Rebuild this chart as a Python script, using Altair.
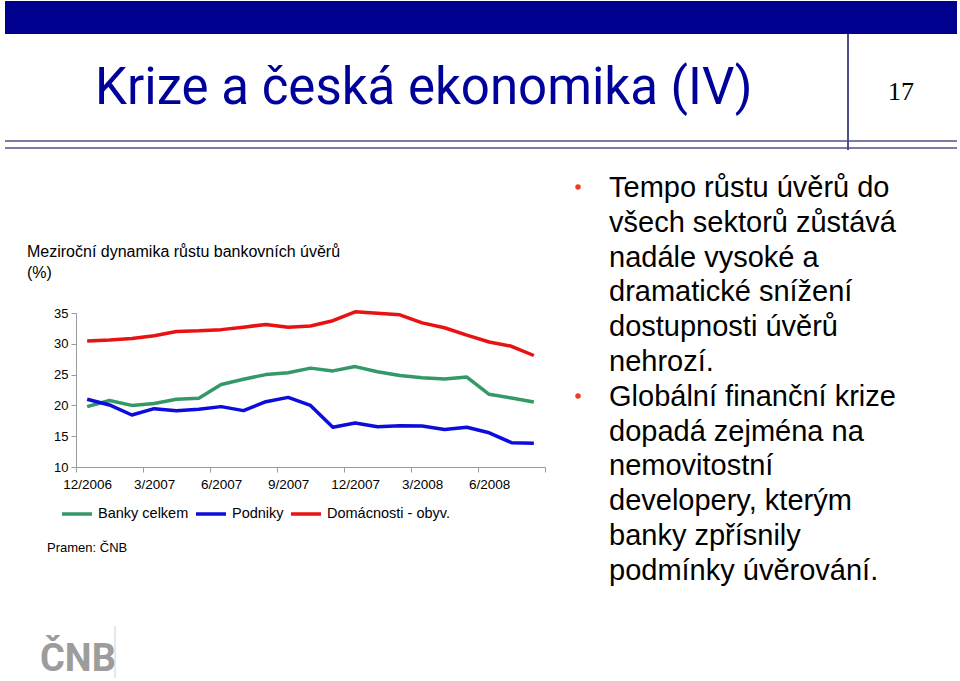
import altair as alt
import pandas as pd

# ---------------- data ----------------
months = ["12/2006", "1/2007", "2/2007", "3/2007", "4/2007", "5/2007", "6/2007",
          "7/2007", "8/2007", "9/2007", "10/2007", "11/2007", "12/2007",
          "1/2008", "2/2008", "3/2008", "4/2008", "5/2008", "6/2008", "7/2008", "8/2008"]
banky_celkem = [19.8, 20.8, 20.0, 20.3, 21.0, 21.15, 23.4, 24.25, 25.0, 25.3, 26.05,
                25.6, 26.3, 25.45, 24.85, 24.5, 24.3, 24.6, 21.8, 21.2, 20.55]
podniky = [21.0, 20.07, 18.44, 19.47, 19.15, 19.37, 19.8, 19.15, 20.6, 21.3, 20.0,
           16.45, 17.15, 16.55, 16.7, 16.65, 16.1, 16.45, 15.55, 13.95, 13.85]
domacnosti = [30.44, 30.6, 30.87, 31.3, 32.0, 32.1, 32.3, 32.7, 33.15, 32.7, 32.9,
              33.75, 35.2, 34.95, 34.7, 33.4, 32.6, 31.4, 30.3, 29.6, 28.1]
series_names = ["Banky celkem", "Podniky", "Domácnosti - obyv."]
series_colors = ["#339966", "#0c0cdc", "#e81212"]
tick_labels = ["12/2006", "3/2007", "6/2007", "9/2007", "12/2007", "3/2008", "6/2008"]
y_ticks = [10, 15, 20, 25, 30, 35]

slide_title = "Krize a česká ekonomika (IV)"
slide_number = "17"
chart_title = ["Meziroční dynamika růstu bankovních úvěrů", "(%)"]
source_note = "Pramen: ČNB"
bullet1 = ["Tempo růstu úvěrů do", "všech sektorů zůstává", "nadále vysoké a",
           "dramatické snížení", "dostupnosti úvěrů", "nehrozí."]
bullet2 = ["Globální finanční krize", "dopadá zejména na", "nemovitostní",
           "developery, kterým", "banky zpřísnily", "podmínky úvěrování."]

rows = []
for name, vals in zip(series_names, [banky_celkem, podniky, domacnosti]):
    for i, v in enumerate(vals):
        rows.append({"i": i, "month": months[i], "v": v, "series": name})
df = pd.DataFrame(rows)

# ---------------- layout ----------------
OX, OY = 76, 313          # plot origin on the page
W, H = 469, 154           # plot area
N = len(months)


def px(x):
    return x - OX


def py(y):
    return y - OY


dummy = pd.DataFrame({"a": [0]})
SANS = "Liberation Sans"

label_array = "[" + ",".join("'%s'" % t for t in tick_labels) + "]"
label_expr = label_array + "[round((datum.value + 0.5) / 3)] || ''"

lines = alt.Chart(df).mark_line(strokeWidth=3.5, strokeJoin="round", strokeCap="butt").encode(
    x=alt.X("i:Q",
            scale=alt.Scale(domain=[-0.5, N - 0.5], nice=False, zero=False),
            axis=alt.Axis(values=[-0.5 + 3 * k for k in range(8)], labelExpr=label_expr,
                          labelOffset=W / N / 2, labelFlush=False, labelOverlap=False,
                          labelBound=False, grid=False, title=None, tickSize=5,
                          labelPadding=5, labelFontSize=13.5, labelFont=SANS,
                          labelColor="#000000", domainColor="#9a9a9a", tickColor="#9a9a9a")),
    y=alt.Y("v:Q",
            scale=alt.Scale(domain=[10, 35], nice=False, zero=False),
            axis=alt.Axis(values=y_ticks, grid=False, title=None, tickSize=5, labelPadding=3,
                          labelFontSize=13, labelFont=SANS, labelColor="#000000",
                          domainColor="#9a9a9a", tickColor="#9a9a9a")),
    color=alt.Color("series:N",
                    scale=alt.Scale(domain=series_names, range=series_colors),
                    sort=series_names,
                    legend=alt.Legend(orient="none", legendX=px(60), legendY=py(497),
                                      direction="horizontal", title=None,
                                      symbolType="stroke", symbolSize=900,
                                      symbolStrokeWidth=3.5, labelFontSize=14.5,
                                      labelFont=SANS, labelColor="#000000",
                                      labelOffset=4, columnPadding=0)),
    detail="series:N",
)


def rect(x1, x2, y1, y2, color):
    return alt.Chart(dummy).mark_rect(color=color).encode(
        x=alt.value(px(x1)), x2=alt.value(px(x2)), y=alt.value(py(y1)), y2=alt.value(py(y2)))


def rule(x1, x2, y1, y2, color, w):
    return alt.Chart(dummy).mark_rule(color=color, strokeWidth=w).encode(
        x=alt.value(px(x1)), x2=alt.value(px(x2)), y=alt.value(py(y1)), y2=alt.value(py(y2)))


def text(x, y, t, **kw):
    return alt.Chart(dummy).mark_text(**kw).encode(
        x=alt.value(px(x)), y=alt.value(py(y)), text=alt.value(t))


band = rect(5, 957, 1, 34, "#00008f")
vline = rule(848, 848, 34, 150, "#4f4f8f", 2)
hline1 = rule(5, 957, 141, 141, "#4f4f8f", 1.6)
hline2 = rule(5, 957, 148, 148, "#4f4f8f", 1.6)

title = text(95, 104, slide_title, font="Roboto", fontSize=51, color="#00009a",
             align="left", baseline="alphabetic")
number = text(901, 100, slide_number, font="Liberation Serif", fontSize=26, color="#000000",
              align="center", baseline="alphabetic")

ctitle = text(27, 257, chart_title, font=SANS, fontSize=16, color="#000000", align="left",
              baseline="alphabetic", lineHeight=21)
source = text(47, 552, source_note, font=SANS, fontSize=13, color="#000000", align="left",
              baseline="alphabetic")

b1 = text(609, 197, bullet1, font=SANS, fontSize=29, color="#000000", align="left",
          baseline="alphabetic", lineHeight=34.8)
b2 = text(609, 405.8, bullet2, font=SANS, fontSize=29, color="#000000", align="left",
          baseline="alphabetic", lineHeight=34.8)
dot1 = alt.Chart(dummy).mark_circle(color="#e8401c", size=30, opacity=1).encode(
    x=alt.value(px(578)), y=alt.value(py(187)))
dot2 = alt.Chart(dummy).mark_circle(color="#e8401c", size=30, opacity=1).encode(
    x=alt.value(px(578)), y=alt.value(py(396)))

logo = text(40, 671, "ČNB", font="Roboto", fontSize=38, fontWeight=700, color="#9c9c9c",
            align="left", baseline="alphabetic")
logo_line = rule(115, 115, 626, 678, "#d0d0d0", 1)

chart = alt.layer(
    band, vline, hline1, hline2, title, number, ctitle, source,
    dot1, dot2, b1, b2, logo, logo_line, lines
).properties(
    width=W, height=H,
    padding={"left": OX, "top": OY, "right": 960 - OX - W, "bottom": 681 - OY - H},
    autosize=alt.AutoSizeParams(type="none"),
    background="#ffffff",
).configure_view(stroke=None)

chart.save("out.html", embed_options={"renderer": "svg", "actions": False})
